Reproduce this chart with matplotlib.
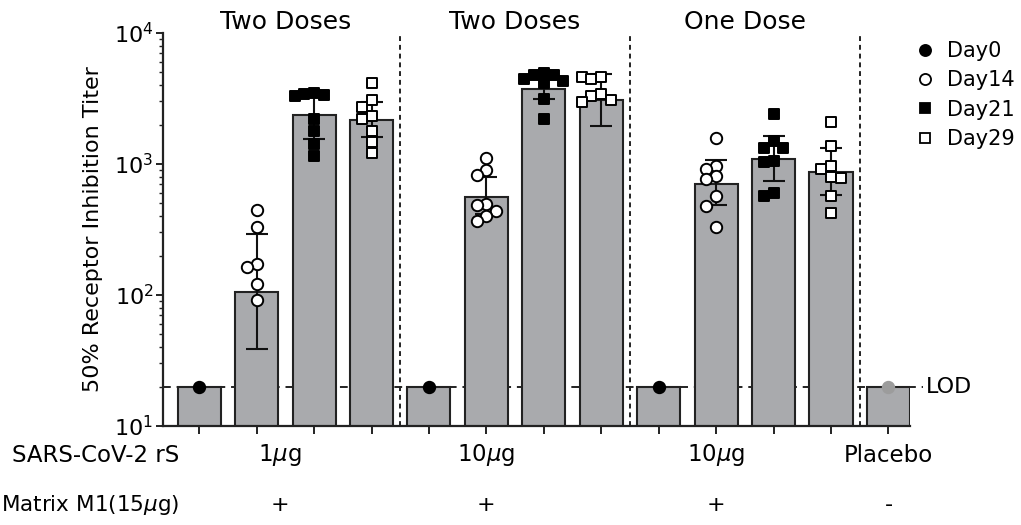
import matplotlib
matplotlib.use('Agg')
import matplotlib.pyplot as plt
import numpy as np
from matplotlib.lines import Line2D
from matplotlib.transforms import blended_transform_factory

plt.rcParams['font.family'] = ['DejaVu Sans']
plt.rcParams['mathtext.fontset'] = 'dejavusans'

# ---------------- data ----------------
days = ['Day0', 'Day14', 'Day21', 'Day29']
group_titles = ['Two Doses', 'Two Doses', 'One Dose']
dose_labels = ['1$\\mu$g', '10$\\mu$g', '10$\\mu$g', 'Placebo']
matrix_labels = ['+', '+', '+', '-']
row_labels = ['SARS-CoV-2 rS', 'Matrix M1(15$\\mu$g)']

bar_day = ['Day0', 'Day14', 'Day21', 'Day29'] * 3 + ['Placebo']
bar_means = [20, 105, 2355, 2170, 20, 563, 3740, 3100, 20, 703, 1096, 868, 20]
err_low = [np.nan, 38.5, 1552, 1607, np.nan, 415, 3120, 1950, np.nan, 486, 746, 577, np.nan]
err_high = [np.nan, 290, 3450, 2980, np.nan, 790, 4480, 4900, np.nan, 1080, 1630, 1320, np.nan]

points = [
    [20],
    [448, 332, 173, 164, 121, 91],
    [3470, 3420, 3365, 3300, 2218, 1795, 1413, 1150],
    [4180, 3085, 2725, 2340, 2194, 1795, 1464, 1208],
    [20],
    [1107, 900, 820, 497, 483, 437, 403, 366],
    [4980, 4750, 4750, 4435, 4325, 4130, 3120, 2194],
    [4620, 4620, 4435, 3440, 3300, 3085, 2970],
    [20],
    [1588, 961, 912, 809, 767, 570, 481, 332],
    [2420, 1500, 1318, 1318, 1054, 1036, 604, 570],
    [2080, 1380, 967, 912, 800, 781, 570, 420],
    [20],
]
lod = 20

# ---------------- styles ----------------
bar_color = '#a9aaad'
styles = {
    'Day0': dict(marker='o', facecolor='black', edgecolor='black'),
    'Day14': dict(marker='o', facecolor='white', edgecolor='black'),
    'Day21': dict(marker='s', facecolor='black', edgecolor='black'),
    'Day29': dict(marker='s', facecolor='white', edgecolor='black'),
    'Placebo': dict(marker='o', facecolor='#9c9c9c', edgecolor='#9c9c9c'),
}

fig = plt.figure(figsize=(10.21, 5.25), dpi=100)
ax = fig.add_axes([163 / 1021, 1 - 426 / 525, (910 - 163) / 1021, (426 - 33) / 525])

x = np.arange(len(bar_means))
ax.set_yscale('log')
ax.set_ylim(10, 1e4)
ax.set_xlim(-0.63, 12.375)

ax.bar(x, bar_means, width=0.75, color=bar_color, edgecolor='#222222',
       linewidth=1.5, zorder=2, bottom=0)

el = np.array(bar_means) - np.array(err_low)
eh = np.array(err_high) - np.array(bar_means)
ax.errorbar(x, bar_means, yerr=[el, eh], fmt='none', ecolor='#111111',
            elinewidth=1.5, capsize=8, capthick=1.5, zorder=3)

# reference lines
ax.axhline(lod, color='#222222', lw=1.4, ls=(0, (4, 3)), zorder=1.5)
ax.plot([12.375, 12.6], [lod, lod], color='#222222', lw=1.4, ls=(0, (3, 3)),
        clip_on=False, zorder=1.5)
ax.text(12.66, lod, 'LOD', fontsize=16, va='center', ha='left')
for sx in [3.5, 7.5, 11.5]:
    ax.axvline(sx, color='#222222', lw=1.4, ls=(0, (2.5, 2)), zorder=1)

# swarm placement of points (pixel space)
diam_px = 11.5
fig.canvas.draw()
trans = ax.transData
for i, vals in enumerate(points):
    st = styles[bar_day[i]]
    placed = []
    order = sorted(vals, reverse=True)
    xs, ys = [], []
    cx_px = trans.transform((x[i], 10))[0]
    for v in order:
        y_px = trans.transform((x[i], v))[1]
        for k in [0, -1, 1, -2, 2, -3, 3]:
            px = cx_px + k * diam_px * 0.85
            if all(np.hypot(px - qx, y_px - qy) >= diam_px * 0.85 for qx, qy in placed):
                break
        placed.append((px, y_px))
        xd = trans.inverted().transform((px, y_px))[0]
        xs.append(xd)
        ys.append(v)
    ms = 8.2 if st['marker'] == 'o' else 7.6
    ax.scatter(xs, ys, s=ms ** 2, marker=st['marker'], facecolors=st['facecolor'],
               edgecolors=st['edgecolor'], linewidths=1.4, zorder=4, clip_on=False)

# axes styling
for sp in ['top', 'right']:
    ax.spines[sp].set_visible(False)
for sp in ['left', 'bottom']:
    ax.spines[sp].set_linewidth(1.6)
    ax.spines[sp].set_color('#222222')
ax.set_xticks(x)
ax.set_xticklabels([])
ax.tick_params(axis='x', length=6, width=1.4, direction='out', color='#222222')
ax.tick_params(axis='y', which='major', length=5, width=1.4, labelsize=16, pad=2, color='#222222')
ax.tick_params(axis='y', which='minor', length=3, width=1.0, color='#222222')
ax.set_ylabel('50% Receptor Inhibition Titer', fontsize=16, labelpad=8)

# group titles
tb = blended_transform_factory(ax.transData, ax.transAxes)
for g, t in enumerate(group_titles):
    ax.text(g * 4 + 1.5, 1.028, t, transform=tb, ha='center', va='center', fontsize=18)

# bottom row labels
tf = blended_transform_factory(ax.transData, fig.transFigure)
fig.text(12 / 1021, 1 - 455 / 525, row_labels[0], fontsize=16.5, va='center', ha='left')
fig.text(1 / 1021, 1 - 505 / 525, row_labels[1], fontsize=15.5, va='center', ha='left')
label_x = [1.4, 5.0, 9.0, 12.0]
for lx, dl, ml in zip(label_x, dose_labels, matrix_labels):
    ax.text(lx, 1 - 455 / 525, dl, transform=tf, fontsize=16.5, ha='center', va='center')
    ax.text(lx, 1 - 505 / 525, ml, transform=tf, fontsize=16, ha='center', va='center')

# legend
handles = []
for d in days:
    st = styles[d]
    handles.append(Line2D([], [], ls='none', marker=st['marker'], markersize=8 if st['marker'] == 'o' else 7.5,
                          markerfacecolor=st['facecolor'], markeredgecolor=st['edgecolor'],
                          markeredgewidth=1.3, label=d))
fig.legend(handles=handles, loc='upper left', bbox_to_anchor=(915 / 1021, 1 - 41 / 525),
           frameon=False, fontsize=15, handlelength=1.0, handletextpad=0.55,
           labelspacing=0.45, borderaxespad=0, borderpad=0)

fig.savefig('out.png', dpi=100)
